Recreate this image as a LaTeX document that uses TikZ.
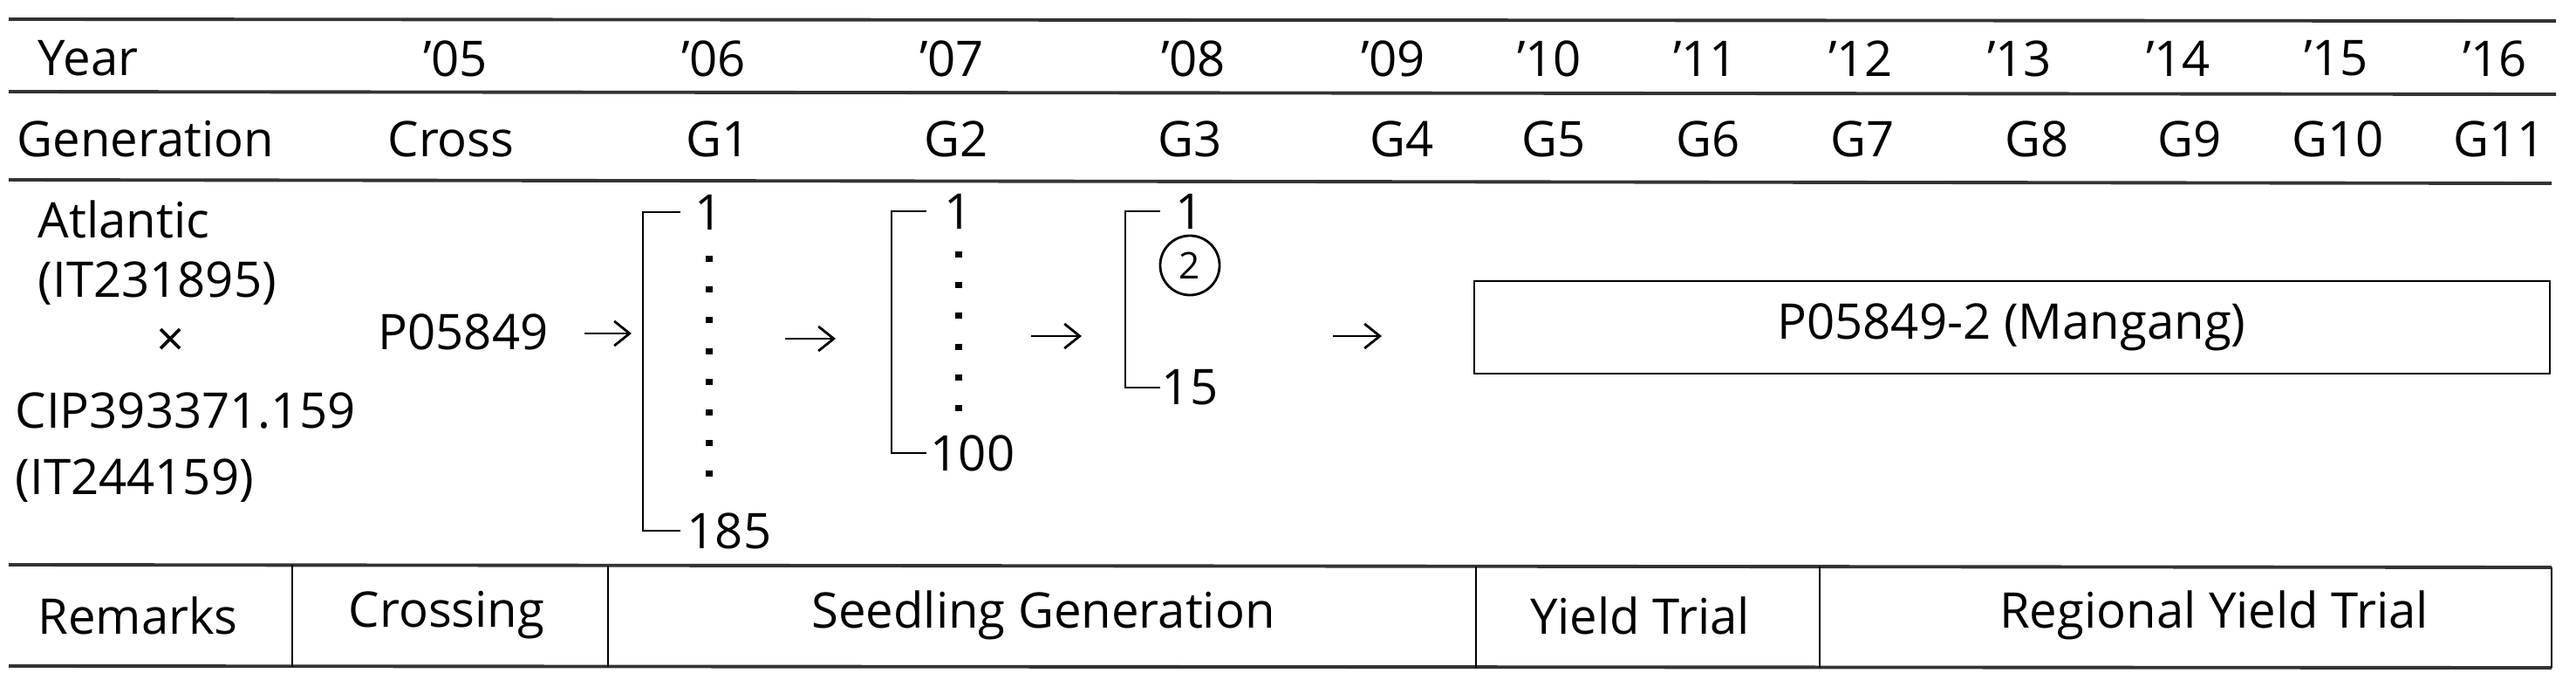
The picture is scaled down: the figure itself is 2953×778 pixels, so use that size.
\documentclass[tikz,border=0pt]{standalone}
\usetikzlibrary{arrows.meta}
\usepackage{fontspec}
\setmainfont{Open Sans}
\begin{document}
\begin{tikzpicture}[x=0.01cm,y=-0.01cm,
  t/.style={inner sep=0pt,font=\fontsize{16}{19}\selectfont},
  rule/.style={line width=1.1pt,draw=black!80},
  thin/.style={line width=0.8pt},
  arr/.style={line width=0.8pt,-{Straight Barb[length=5pt,width=8pt]}}]
\useasboundingbox (0,0) rectangle (2953,778);
% horizontal rules
\draw[rule] (10,22) -- (2930,24);
\draw[rule] (10,105) -- (2930,108);
\draw[rule] (10,206) -- (2925,210);
\draw[rule] (10,647) -- (2925,650);
\draw[rule] (10,763) -- (2925,765);
\draw[thin] (335,647) -- (335,764);
\draw[thin] (697,648) -- (697,764);
\draw[thin] (1692,649) -- (1692,765);
\draw[thin] (2086,649) -- (2086,765);
\draw[thin] (2925,650) -- (2925,765);
% Year row
\node[t,anchor=west] (year) at (43,67) {Year};
\foreach \x/\l [count=\i] in {522/05,818/06,1091/07,1368/08,1597/09,1776/10,1955/11,2133/12,2315/13,2497/14,2678/15,2860/16}
  \node[t] (y\i) at (\x,67) {'\l};
% Generation row
\node[t,anchor=west] (gen) at (19,159) {Generation};
\node[t] (cross) at (517,159) {Cross};
\foreach \x/\l in {823/1,1096/2,1364/3,1607/4,1781/5,1958/6,2135/7,2335/8,2510/9,2680/10,2865/11}
  \node[t] (g\l) at (\x,159) {G\l};
% parents
\node[t,anchor=west] (p1a) at (43,251) {Atlantic};
\node[t,anchor=west] (p1b) at (43,325) {(IT231895)};
\node[t] (times) at (196,392) {×};
\node[t,anchor=west] (p2a) at (17,471) {CIP393371.159};
\node[t,anchor=west] (p2b) at (17,551) {(IT244159)};
\node[t] (p) at (531,380) {P05849};
% G1
\draw[thin] (780,243) -- (737,243) -- (737,608) -- (780,608);
\node[t] (a1) at (813,243) {1};
\node[t] (a185) at (836,608) {185};
\draw[line width=2pt,dash pattern=on 2pt off 8pt] (813,293) -- (813,556);
% G2
\draw[thin] (1062,242) -- (1022,242) -- (1022,519) -- (1062,519);
\node[t] (b1) at (1099,242) {1};
\node[t] (b100) at (1115,519) {100};
\draw[line width=2pt,dash pattern=on 2pt off 8pt] (1099,288) -- (1099,471);
% G3
\draw[thin] (1330,242) -- (1290,242) -- (1290,444) -- (1330,444);
\node[t] (c1) at (1364,242) {1};
\node[t,font=\fontsize{12}{14}\selectfont,draw,thin,circle,minimum size=0.68cm] (c2) at (1364,304) {2};
\node[t] (c15) at (1364,444) {15};
% arrows
\coordinate (e1s) at (670,382); \coordinate (e1e) at (724,382);
\coordinate (e2s) at (900,388); \coordinate (e2e) at (958,388);
\coordinate (e3s) at (1182,385); \coordinate (e3e) at (1240,385);
\coordinate (e4s) at (1528,385); \coordinate (e4e) at (1584,385);
\draw[arr] (e1s) -- (e1e);
\draw[arr] (e2s) -- (e2e);
\draw[arr] (e3s) -- (e3e);
\draw[arr] (e4s) -- (e4e);
% final box
\draw[thin] (1690,322) rectangle (2923,428);
\node[t] (mang) at (2306,375) {P05849-2 (Mangang)};
% remarks row
\node[t] (rem) at (158,705) {Remarks};
\node[t] (crs) at (512,705) {Crossing};
\node[t] (seed) at (1196,705) {Seedling Generation};
\node[t] (yt) at (1880,705) {Yield Trial};
\node[t] (ryt) at (2538,705) {Regional Yield Trial};
\end{tikzpicture}
\end{document}
